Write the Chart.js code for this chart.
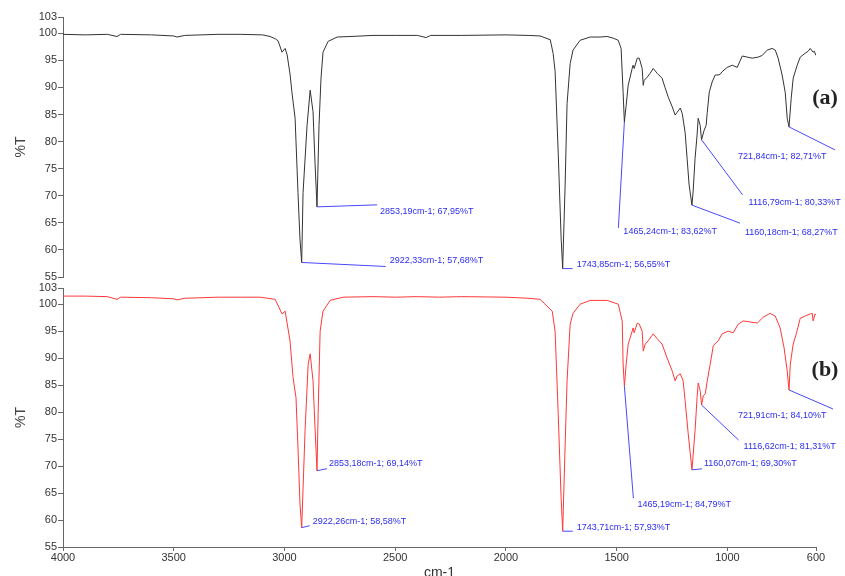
<!DOCTYPE html>
<html>
<head>
<meta charset="utf-8">
<script src="https://cdn.jsdelivr.net/npm/chart.js@4.4.0/dist/chart.umd.min.js"></script>
<style>
html, body { margin: 0; padding: 0; background: #fff; overflow: hidden; width: 845px; height: 576px; }
#wrap { position: relative; width: 845px; height: 576px; }
canvas { position: absolute; left: 0; }
#chartA { top: 0; }
#chartB { top: 280px; }
</style>
</head>
<body>
<div id="wrap">
  <canvas id="chartA" width="845" height="300"></canvas>
  <canvas id="chartB" width="845" height="310"></canvas>
</div>
<script>
// axis ticks
var xTicks = [4000, 3500, 3000, 2500, 2000, 1500, 1000, 600];
var yTicks = [55, 60, 65, 70, 75, 80, 85, 90, 95, 100, 103];

// spectrum (a) - wavenumber (cm-1) and %T
var wnA = [4000, 3900, 3800, 3756, 3740, 3600, 3500, 3485, 3450, 3300, 3200, 3100, 3065, 3042, 3029,
  3011, 2997, 2988, 2975, 2966, 2952, 2939, 2930, 2922.33, 2916, 2898, 2884, 2871, 2862, 2853.19,
  2844, 2835, 2826, 2803, 2762, 2704, 2600, 2500, 2400, 2360, 2340, 2200, 2000, 1900, 1846,
  1800, 1787, 1778, 1764, 1751, 1743.85, 1733, 1724, 1710, 1697, 1665, 1620, 1575, 1543, 1516,
  1493, 1480, 1471, 1465.24, 1457, 1448, 1430, 1426, 1421, 1407, 1398, 1385, 1380, 1376, 1362,
  1349, 1335, 1317, 1295, 1281, 1267, 1249, 1236, 1227, 1213, 1204, 1191, 1182, 1173, 1160.18,
  1155, 1146, 1137, 1132, 1123, 1116.79, 1105, 1096, 1091, 1082, 1069, 1055, 1042, 1033, 1024,
  1001, 978, 956, 933, 911, 888, 861, 843, 820, 798, 784, 771, 753, 739, 730,
  721.84, 712, 703, 685, 671, 649, 635, 626, 613, 608, 600];
var tA = [99.8, 99.7, 99.8, 99.4, 99.8, 99.7, 99.5, 99.3, 99.6, 99.8, 99.8, 99.7, 99.4, 99.0, 98.6,
  96.5, 97.2, 96.0, 92.5, 89.0, 84.3, 70.6, 62.0, 57.68, 70.6, 83.0, 89.5, 85.5, 76.0, 67.95,
  83.0, 91.7, 96.5, 98.5, 99.3, 99.4, 99.6, 99.6, 99.6, 99.2, 99.6, 99.6, 99.7, 99.6, 99.5,
  98.8, 96.3, 93.0, 77.9, 62.4, 56.55, 71.6, 87.0, 94.4, 96.9, 98.7, 99.3, 99.3, 99.4, 99.1,
  98.7, 97.2, 89.1, 83.62, 86.7, 90.4, 93.5, 94.1, 93.5, 95.4, 95.4, 93.5, 90.4, 91.3, 91.9,
  92.6, 93.5, 92.6, 91.7, 89.9, 88.2, 86.4, 84.9, 85.4, 86.2, 85.2, 81.7, 76.9, 72.0, 68.27,
  70.7, 76.9, 81.2, 84.3, 83.0, 80.33, 82.1, 83.0, 85.4, 89.1, 91.0, 92.3, 92.3, 92.4, 92.9,
  93.7, 94.1, 93.7, 95.8, 95.6, 95.4, 95.6, 95.9, 96.9, 97.2, 96.9, 95.4, 92.3, 89.1, 84.3,
  82.71, 88.0, 91.7, 94.1, 95.6, 96.3, 96.7, 97.2, 96.5, 96.7, 95.9];

// spectrum (b)
var wnB = [4000, 3900, 3800, 3756, 3740, 3600, 3500, 3485, 3450, 3300, 3200, 3110, 3042, 3011, 2997,
  2975, 2961, 2948, 2939, 2930, 2922.26, 2907, 2893, 2884, 2871, 2862, 2853.18, 2848, 2839, 2826,
  2794, 2735, 2600, 2500, 2400, 2300, 2200, 2000, 1900, 1846, 1791, 1778, 1764, 1751, 1743.71,
  1733, 1724, 1710, 1697, 1665, 1620, 1543, 1493, 1475, 1471, 1465.19, 1457, 1448, 1430, 1426,
  1421, 1407, 1398, 1385, 1380, 1371, 1358, 1335, 1317, 1295, 1272, 1249, 1236, 1227, 1213,
  1200, 1191, 1177, 1160.07, 1146, 1137, 1132, 1123, 1116.62, 1109, 1100, 1091, 1073, 1064, 1042,
  1024, 997, 974, 951, 929, 897, 865, 838, 807, 784, 762, 744, 730, 721.91, 716,
  703, 689, 671, 649, 626, 617, 613, 604, 600];
var tB = [101.5, 101.5, 101.4, 100.9, 101.3, 101.2, 101.0, 100.8, 101.1, 101.3, 101.3, 101.3, 100.9, 98.2, 98.7,
  93.2, 86.4, 82.7, 73.5, 63.0, 58.58, 76.6, 88.9, 90.8, 85.8, 77.0, 69.14, 79.7, 95.0, 98.7,
  100.7, 101.3, 101.4, 101.3, 101.4, 101.3, 101.4, 101.3, 101.1, 100.9, 98.7, 95.0, 79.7, 64.2, 57.93,
  73.5, 85.8, 96.3, 98.3, 100.0, 100.7, 100.7, 100.0, 96.9, 88.9, 84.79, 88.9, 92.6, 95.0, 95.6,
  94.7, 96.5, 96.3, 95.0, 91.3, 92.6, 93.2, 94.5, 93.6, 92.6, 90.0, 87.6, 85.8, 86.7, 87.1,
  85.8, 82.1, 76.0, 69.30, 76.6, 82.7, 85.4, 84.0, 81.31, 83.0, 83.4, 85.8, 90.0, 92.3, 93.2,
  94.5, 95.0, 94.7, 96.3, 96.9, 96.7, 96.5, 97.6, 98.3, 97.8, 95.6, 91.9, 87.6, 84.10, 88.9,
  92.6, 94.5, 97.4, 97.8, 98.2, 98.3, 96.9, 98.2, 98.0];

// marked peaks: [cm-1, %T]
var peaksA = [[2922.33, 57.68], [2853.19, 67.95], [1743.85, 56.55], [1465.24, 83.62],
  [1160.18, 68.27], [1116.79, 80.33], [721.84, 82.71]];
var peaksB = [[2922.26, 58.58], [2853.18, 69.14], [1743.71, 57.93], [1465.19, 84.79],
  [1160.07, 69.30], [1116.62, 81.31], [721.91, 84.10]];

// leader line end (dx, dy) and label start (tx, ty), pixels from the peak
var offsetsA = [[84, 4, 88, -2], [60, -2, 63, 5], [10, 0, 14, -4], [-6, 106, -1, 110],
  [48, 18, 53, 27], [41, 55, 47, 63], [46, 23, -51, 30]];
var offsetsB = [[8, -2, 11, -6], [10, -2, 12, -7], [10, 0, 14, -4], [9, 112, 13, 118],
  [10, -1, 12, -6], [37, 35, 42, 41], [44, 19, -51, 26]];

function fmt(v) {
    return v.toFixed(2).replace('.', ',');
}

function peakPlugin(peaks, offsets, tag, tagY) {
    return {
        id: 'peaks',
        afterDatasetsDraw(chart) {
            let ctx = chart.ctx;
            let xs = chart.scales.x;
            let ys = chart.scales.y;
            ctx.save();
            ctx.lineWidth = 1;
            ctx.strokeStyle = '#4848ff';
            ctx.fillStyle = '#2c2cf0';
            ctx.font = '9px "Liberation Sans", Arial, sans-serif';
            ctx.textBaseline = 'middle';
            ctx.textAlign = 'left';
            peaks.forEach((p, i) => {
                let px = xs.getPixelForValue(p[0]);
                let py = ys.getPixelForValue(p[1]);
                let o = offsets[i];
                ctx.beginPath();
                ctx.moveTo(px, py);
                ctx.lineTo(px + o[0], py + o[1]);
                ctx.stroke();
                ctx.fillText(fmt(p[0]) + 'cm-1; ' + fmt(p[1]) + '%T', px + o[2], py + o[3]);
            });
            ctx.fillStyle = '#222';
            ctx.font = 'bold 22px "Liberation Serif", "Times New Roman", serif';
            ctx.textAlign = 'center';
            ctx.fillText(tag, chart.chartArea.right + 9, chart.chartArea.top + tagY);
            ctx.restore();
        }
    };
}

function makeChart(id, wn, tr, color, peaks, offsets, tag, tagY, isBottom) {
    let points = wn.map((w, i) => ({ x: w, y: tr[i] }));
    let xScale = {
        type: 'linear',
        min: 600,
        max: 4000,
        reverse: true,
        display: isBottom,
        afterBuildTicks: (s) => { s.ticks = xTicks.map(v => ({ value: v })); },
        ticks: {
            autoSkip: false,
            maxRotation: 0,
            padding: 0,
            color: '#333',
            font: { family: '"Liberation Sans", Arial, sans-serif', size: 11 },
            callback: (v) => String(v)
        },
        grid: { drawOnChartArea: false, drawTicks: true, tickLength: 4, color: '#666' },
        border: { display: true, color: '#666' },
        title: {
            display: true,
            text: 'cm-1',
            color: '#333',
            font: { family: '"Liberation Sans", Arial, sans-serif', size: 14 },
            padding: { top: 0, bottom: 8 }
        }
    };
    if (isBottom) {
        xScale.afterFit = (s) => { s.height = 43; };
    }

    return new Chart(document.getElementById(id), {
        type: 'line',
        data: {
            datasets: [{
                data: points,
                borderColor: color,
                borderWidth: 1,
                pointRadius: 0,
                tension: 0,
                fill: false
            }]
        },
        options: {
            responsive: false,
            animation: false,
            events: [],
            layout: {
                padding: isBottom ? { top: 8, right: 29, bottom: 0, left: 0 } : { top: 17, right: 29, bottom: 23, left: 0 }
            },
            plugins: {
                legend: { display: false },
                tooltip: { enabled: false }
            },
            scales: {
                x: xScale,
                y: {
                    type: 'linear',
                    min: 55,
                    max: 103,
                    afterBuildTicks: (s) => { s.ticks = yTicks.map(v => ({ value: v })); },
                    afterFit: (s) => { s.width = 63; },
                    ticks: {
                        autoSkip: false,
                        padding: 1,
                        color: '#333',
                        font: { family: '"Liberation Sans", Arial, sans-serif', size: 11 },
                        callback: (v) => String(v)
                    },
                    grid: { drawOnChartArea: false, drawTicks: true, tickLength: 5, color: '#666' },
                    border: { display: true, color: '#666' },
                    title: {
                        display: true,
                        text: '%T',
                        color: '#444',
                        font: { family: '"Liberation Sans", Arial, sans-serif', size: 14 },
                        padding: { top: 13, bottom: 0 }
                    }
                }
            }
        },
        plugins: [peakPlugin(peaks, offsets, tag, tagY)]
    });
}

makeChart('chartA', wnA, tA, '#333333', peaksA, offsetsA, '(a)', 81, false);
makeChart('chartB', wnB, tB, '#ff3838', peaksB, offsetsB, '(b)', 82, true);
</script>
</body>
</html>
